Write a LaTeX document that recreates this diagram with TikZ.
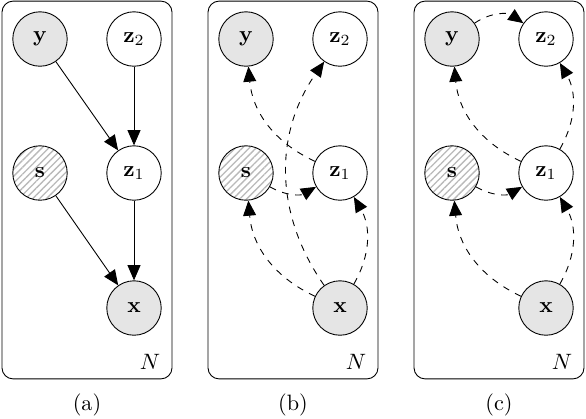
\documentclass[tikz,border=0pt]{standalone}
\usepackage{amsmath}
\usetikzlibrary{arrows.meta, patterns.meta}

\begin{document}
\begin{tikzpicture} [x=0.45pt, y=-0.45pt,
                latent/.style={draw, circle, minimum size=24.5pt, inner sep=0pt},
                obs/.style={latent, fill=gray!20},
                hatched/.style={latent, pattern={Lines[angle=45, distance=2.2pt, line width=0.6pt]}, pattern color=gray!55},
                plate/.style={draw, rectangle, rounded corners=5pt, minimum width=76.5pt, minimum height=170pt},
                arrow/.style={-{Triangle[length=6.8pt, width=5.8pt]}},
                infer/.style={arrow, dashed}
            ]
            \useasboundingbox (0,0) rectangle (586,418);

            % Panel (a): generative model
            \begin{scope}
                \node[plate] (platea) at (87,190) {};
                \node (Na) at (150,362) {$N$};
                \node[obs] (ya) at (40,39) {$\mathbf{y}$};
                \node[latent] (z2a) at (134,39) {$\mathbf{z}_2$};
                \node[hatched] (sa) at (40,173) {$\mathbf{s}$};
                \node[latent] (z1a) at (134,173) {$\mathbf{z}_1$};
                \node[obs] (xa) at (134,308) {$\mathbf{x}$};
                \node (capa) at (87,405) {(a)};
            \end{scope}

            % Panel (b)
            \begin{scope}[xshift=206*0.45pt]
                \node[plate] (plateb) at (87,190) {};
                \node (Nb) at (150,362) {$N$};
                \node[obs] (yb) at (40,39) {$\mathbf{y}$};
                \node[latent] (z2b) at (134,39) {$\mathbf{z}_2$};
                \node[hatched] (sb) at (40,173) {$\mathbf{s}$};
                \node[latent] (z1b) at (134,173) {$\mathbf{z}_1$};
                \node[obs] (xb) at (134,308) {$\mathbf{x}$};
                \node (capb) at (87,405) {(b)};
            \end{scope}

            % Panel (c)
            \begin{scope}[xshift=412*0.45pt]
                \node[plate] (platec) at (87,190) {};
                \node (Nc) at (150,362) {$N$};
                \node[obs] (yc) at (40,39) {$\mathbf{y}$};
                \node[latent] (z2c) at (134,39) {$\mathbf{z}_2$};
                \node[hatched] (sc) at (40,173) {$\mathbf{s}$};
                \node[latent] (z1c) at (134,173) {$\mathbf{z}_1$};
                \node[obs] (xc) at (134,308) {$\mathbf{x}$};
                \node (capc) at (87,405) {(c)};
            \end{scope}

            % Connections (a)
            \draw[arrow] (ya) -- (z1a);
            \draw[arrow] (z2a) -- (z1a);
            \draw[arrow] (sa) -- (xa);
            \draw[arrow] (z1a) -- (xa);

            % Connections (b)
            \draw[infer] (z1b) to[bend left=30] (yb);
            \draw[infer] (xb) to[bend left=35] (z2b);
            \draw[infer] (xb) to[bend left=30] (sb);
            \draw[infer] (xb) to[bend right=30] (z1b);
            \draw[infer] (sb) to[bend right=30] (z1b);

            % Connections (c)
            \draw[infer] (yc) to[bend left=35] (z2c);
            \draw[infer] (z1c) to[bend left=30] (yc);
            \draw[infer] (z1c) to[bend right=30] (z2c);
            \draw[infer] (sc) to[bend right=30] (z1c);
            \draw[infer] (xc) to[bend left=30] (sc);
            \draw[infer] (xc) to[bend right=30] (z1c);
        \end{tikzpicture}
\end{document}
